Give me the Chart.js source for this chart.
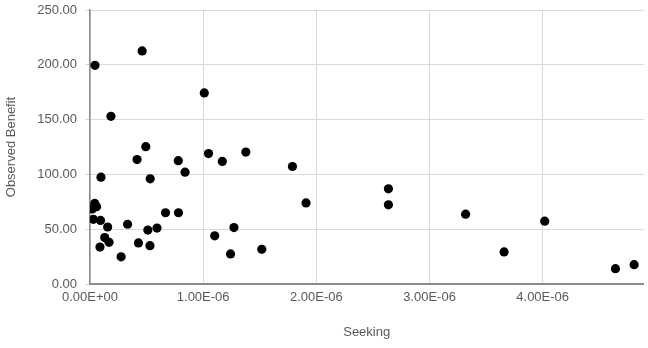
<!DOCTYPE html>
<html lang="en">
<head>
    <meta charset="UTF-8">
    <title>Observed Benefit vs Seeking</title>
    <script src="https://cdn.jsdelivr.net/npm/chart.js"></script>
    <style>
        body { margin: 0; background: #ffffff; }
        #wrap { width: 648px; height: 348px; }
    </style>
</head>
<body>
    <div id="wrap"><canvas id="scatter"></canvas></div>

    <script>
        // Seeking values (units of 1e-6) and the matching observed benefit
        const seekingE6 = [
            0.044, 0.461, 0.185, 1.010, 0.493, 0.416, 0.532, 0.097, 0.780, 0.840,
            1.047, 0.667, 0.782, 0.020, 0.042, 0.058, 0.030, 0.093, 0.156, 0.332,
            0.511, 0.592, 0.130, 0.168, 0.088, 0.428, 0.530, 0.275, 1.102, 1.169,
            1.377, 1.789, 1.909, 2.637, 2.637, 1.272, 1.242, 1.518, 3.319, 3.659,
            4.018, 4.643, 4.808
        ];
        const benefit = [
            199.5, 212.7, 153.0, 174.3, 125.3, 113.5, 96.0, 97.5, 112.5, 102.0,
            119.0, 65.0, 65.0, 68.5, 73.5, 70.5, 59.0, 58.0, 52.0, 54.5,
            49.2, 51.0, 42.4, 38.0, 33.7, 37.5, 35.0, 24.8, 44.0, 111.8,
            120.4, 107.2, 74.0, 86.8, 72.2, 51.5, 27.4, 31.7, 63.7, 29.3,
            57.3, 14.0, 17.6
        ];
        const xTicks = [0, 1e-6, 2e-6, 3e-6, 4e-6];
        const yTicks = [0, 50, 100, 150, 200, 250];

        const points = seekingE6.map((s, i) => ({ x: s * 1e-6, y: benefit[i] }));

        // Excel-like scientific format: 1.00E-06
        const sci = v => {
            const parts = v.toExponential(2).split('e');
            const e = parseInt(parts[1], 10);
            return parts[0] + 'E' + (e < 0 ? '-' : '+') + String(Math.abs(e)).padStart(2, '0');
        };

        const textColor = '#595959';
        const gridColor = '#d9d9d9';
        const axisColor = '#8c8c8c';
        const font = { family: "'Liberation Sans', Arial, sans-serif", size: 13 };

        new Chart(document.getElementById('scatter'), {
            type: 'scatter',
            data: {
                datasets: [{
                    label: 'Observed Benefit',
                    data: points,
                    backgroundColor: '#000000',
                    borderWidth: 0,
                    pointRadius: 4.6,
                }]
            },
            options: {
                responsive: true,
                maintainAspectRatio: false,
                animation: false,
                layout: { padding: { top: 10, right: 3, bottom: 0, left: 0 } },
                plugins: {
                    legend: { display: false },
                    tooltip: { enabled: false }
                },
                scales: {
                    x: {
                        type: 'linear',
                        min: 0,
                        max: 4.89e-6,
                        afterBuildTicks: scale => { scale.ticks = xTicks.map(v => ({ value: v })); },
                        afterFit: scale => { scale.height = 64; },
                        grid: { color: gridColor, drawTicks: false },
                        border: { color: axisColor, width: 2 },
                        ticks: {
                            color: textColor,
                            font: font,
                            padding: 6,
                            maxRotation: 0,
                            callback: v => sci(v)
                        },
                        title: {
                            display: true,
                            text: 'Seeking',
                            color: textColor,
                            font: font,
                            padding: { top: 0, bottom: 8 }
                        }
                    },
                    y: {
                        min: 0,
                        max: 250,
                        afterBuildTicks: scale => { scale.ticks = yTicks.map(v => ({ value: v })); },
                        afterFit: scale => {
                            scale.width = 90;
                            scale.paddingTop = 0;
                            scale.paddingBottom = 0;
                        },
                        grid: { color: gridColor, tickLength: 5 },
                        border: { color: axisColor, width: 1.5 },
                        ticks: {
                            color: textColor,
                            font: font,
                            padding: 8,
                            callback: v => v.toFixed(2)
                        },
                        title: {
                            display: true,
                            text: 'Observed Benefit',
                            color: textColor,
                            font: font,
                            padding: { top: 4, bottom: 0 }
                        }
                    }
                }
            }
        });
    </script>
</body>
</html>
